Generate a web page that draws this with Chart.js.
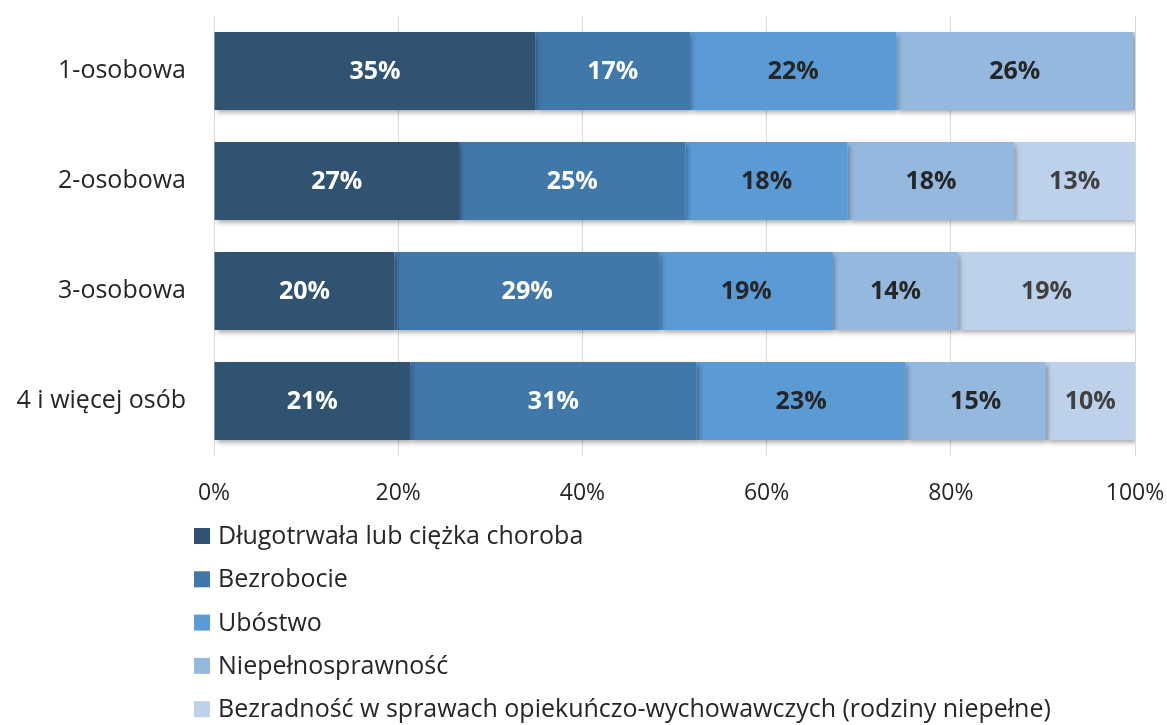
<!DOCTYPE html>
<html>
<head>
<meta charset="utf-8">
<script src="https://cdn.jsdelivr.net/npm/chart.js@4"></script>
<style>
  html, body { margin: 0; padding: 0; background: #fff; }
  #wrap { width: 1167px; height: 725px; position: relative; }
</style>
</head>
<body>
<div id="wrap"><canvas id="wykres"></canvas></div>
<script>
// Kategorie (gospodarstwa)
const kategorie = ["1-osobowa", "2-osobowa", "3-osobowa", "4 i więcej osób"];

// Serie (udział w %)
const serie = [
    "Długotrwała lub ciężka choroba",
    "Bezrobocie",
    "Ubóstwo",
    "Niepełnosprawność",
    "Bezradność w sprawach opiekuńczo-wychowawczych (rodziny niepełne)"
];
const choroba       = [34.9, 26.6, 19.6, 21.3];
const bezrobocie    = [16.8, 24.6, 28.8, 31.1];
const ubostwo       = [22.4, 17.6, 18.8, 22.7];
const niepelnosp    = [25.7, 18.1, 13.6, 15.2];
const bezradnosc    = [0.2, 13.1, 19.2, 9.7];

const tickiX = [0, 20, 40, 60, 80, 100];

const KOLORY = ["#2F5371", "#4178AA", "#5B9BD5", "#95B8DF", "#BDD1EA"];
const KOLOR_ETYKIETY = ["#ffffff", "#ffffff", "#262626", "#262626", "#404040"];
const FONT = "'Open Sans', 'DejaVu Sans', sans-serif";

const wartosci = [choroba, bezrobocie, ubostwo, niepelnosp, bezradnosc];

// -------- cień pod słupkami --------
const cien = {
    id: "cien",
    beforeDatasetsDraw(chart) {
        const ctx = chart.ctx;
        ctx.save();
        ctx.shadowColor = "rgba(0,0,0,0.35)";
        ctx.shadowBlur = 5;
        ctx.shadowOffsetX = 2;
        ctx.shadowOffsetY = 3;
    },
    afterDatasetsDraw(chart) {
        chart.ctx.restore();
    }
};

// -------- etykiety wartości --------
const etykiety = {
    id: "etykiety",
    afterDatasetsDraw(chart) {
        const ctx = chart.ctx;
        ctx.save();
        ctx.font = "bold 25px " + FONT;
        ctx.textAlign = "center";
        ctx.textBaseline = "middle";
        chart.data.datasets.forEach((ds, i) => {
            const meta = chart.getDatasetMeta(i);
            meta.data.forEach((bar, j) => {
                const v = ds.data[j];
                if (v < 1) return;
                const { x, base, y } = bar.getProps(["x", "base", "y"], true);
                ctx.fillStyle = KOLOR_ETYKIETY[i];
                ctx.fillText(Math.round(v) + "%", (x + base) / 2, y + 1);
            });
        });
        ctx.restore();
    }
};

// -------- legenda pionowa pod wykresem --------
const legenda = {
    id: "legenda",
    afterDraw(chart) {
        const ctx = chart.ctx;
        ctx.save();
        ctx.font = "25px " + FONT;
        ctx.textBaseline = "middle";
        ctx.textAlign = "left";
        serie.forEach((nazwa, i) => {
            const y = 536 + i * 43.3;
            ctx.fillStyle = KOLORY[i];
            ctx.fillRect(194, y - 8, 16, 16);
            ctx.fillStyle = "#262626";
            ctx.fillText(nazwa, 218, y + 1);
        });
        ctx.restore();
    }
};

new Chart(document.getElementById("wykres"), {
    type: "bar",
    data: {
        labels: kategorie,
        datasets: serie.map((nazwa, i) => ({
            label: nazwa,
            data: wartosci[i],
            backgroundColor: KOLORY[i],
            borderWidth: 0,
            barPercentage: 0.71,
            categoryPercentage: 1
        }))
    },
    options: {
        indexAxis: "y",
        responsive: true,
        maintainAspectRatio: false,
        animation: false,
        layout: { padding: { top: 16, right: 32, bottom: 0, left: 0 } },
        scales: {
            x: {
                stacked: true,
                min: 0,
                max: 100,
                afterBuildTicks: axis => { axis.ticks = tickiX.map(v => ({ value: v })); },
                afterFit: axis => {
                    axis.height = 269;
                    axis.paddingLeft = 0;
                    axis.paddingRight = 0;
                },
                border: { display: false },
                grid: { color: "#d9d9d9", lineWidth: 1, drawTicks: false },
                ticks: {
                    padding: 24,
                    color: "#262626",
                    font: { family: FONT, size: 23 },
                    callback: v => v + "%"
                }
            },
            y: {
                stacked: true,
                afterFit: axis => {
                    axis.width = 214;
                    axis.paddingTop = 0;
                    axis.paddingBottom = 0;
                },
                border: { display: false },
                grid: { display: false, drawTicks: false },
                ticks: {
                    padding: 28,
                    color: "#262626",
                    font: { family: FONT, size: 25 }
                }
            }
        },
        plugins: {
            legend: { display: false },
            tooltip: { enabled: false }
        }
    },
    plugins: [cien, etykiety, legenda]
});
</script>
</body>
</html>
